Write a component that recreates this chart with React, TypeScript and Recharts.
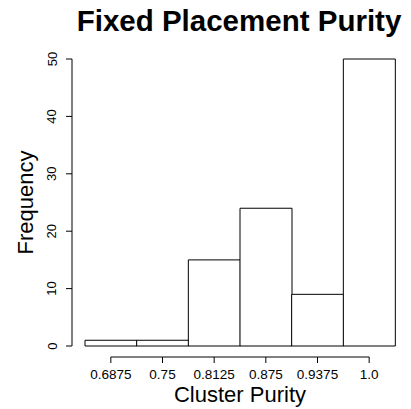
import React from 'react';
import { BarChart, Bar, XAxis, YAxis, Customized } from 'recharts';

const binLabels = ['0.6875', '0.75', '0.8125', '0.875', '0.9375', '1.0'];
const frequencies = [1, 1, 15, 24, 9, 50];
const yTicks = [0, 10, 20, 30, 40, 50];

const data = binLabels.map((label, i) => ({ label, freq: frequencies[i] }));

const FONT = '"Liberation Sans", Arial, Helvetica, sans-serif';
const BAND = 310 / binLabels.length;

const XTick = (props: any) => {
  const { x, y, payload, index } = props;
  const ay = y + 11;
  return (
    <g>
      {index < binLabels.length - 1 && (
        <line x1={x} x2={x + BAND} y1={ay} y2={ay} stroke="#000" strokeWidth={1} />
      )}
      <line x1={x} x2={x} y1={ay} y2={ay + 6} stroke="#000" strokeWidth={1} />
      <text x={x} y={y + 33} textAnchor="middle" fontFamily={FONT} fontSize={13.5} fill="#000">
        {payload.value}
      </text>
    </g>
  );
};

const YTick = (props: any) => {
  const { x, y, payload } = props;
  return (
    <text
      x={x - 9.5}
      y={y}
      transform={`rotate(-90 ${x - 9.5} ${y})`}
      textAnchor="middle"
      fontFamily={FONT}
      fontSize={13}
      fill="#000"
    >
      {payload.value}
    </text>
  );
};

export default function App() {
  return (
    <div style={{ position: 'absolute', left: 0, top: 0, background: '#fff' }}>
      <BarChart
        width={411}
        height={409}
        data={data}
        margin={{ top: 59, right: 3, bottom: 0, left: 0 }}
        barCategoryGap={0}
        barGap={0}
      >
        <XAxis
          dataKey="label"
          height={63}
          padding={{ left: 13, right: 13 }}
          axisLine={false}
          tickLine={false}
          tickSize={0}
          tickMargin={0}
          interval={0}
          tick={<XTick />}
          label={{
            content: (p: any) => {
              const vb = p.viewBox;
              return (
                <text
                  x={vb.x + vb.width / 2}
                  y={vb.y + 56}
                  textAnchor="middle"
                  fontFamily={FONT}
                  fontSize={22}
                  fill="#000"
                >
                  Cluster Purity
                </text>
              );
            },
          }}
        />
        <YAxis
          width={72}
          domain={[0, 50]}
          ticks={yTicks}
          interval={0}
          tickSize={6}
          tickMargin={0}
          axisLine={{ stroke: '#000' }}
          tickLine={{ stroke: '#000' }}
          tick={<YTick />}
          label={{
            content: (p: any) => {
              const vb = p.viewBox;
              const cy = vb.y + vb.height / 2;
              return (
                <text
                  x={33}
                  y={cy}
                  transform={`rotate(-90 33 ${cy})`}
                  textAnchor="middle"
                  fontFamily={FONT}
                  fontSize={22}
                  fill="#000"
                >
                  Frequency
                </text>
              );
            },
          }}
        />
        <Bar dataKey="freq" fill="#fff" stroke="#000" strokeWidth={1} isAnimationActive={false} />
        <Customized
          component={() => (
            <text
              x={239}
              y={31}
              textAnchor="middle"
              fontFamily={FONT}
              fontSize={29.5}
              fontWeight="bold"
              fill="#000"
            >
              Fixed Placement Purity
            </text>
          )}
        />
      </BarChart>
    </div>
  );
}
